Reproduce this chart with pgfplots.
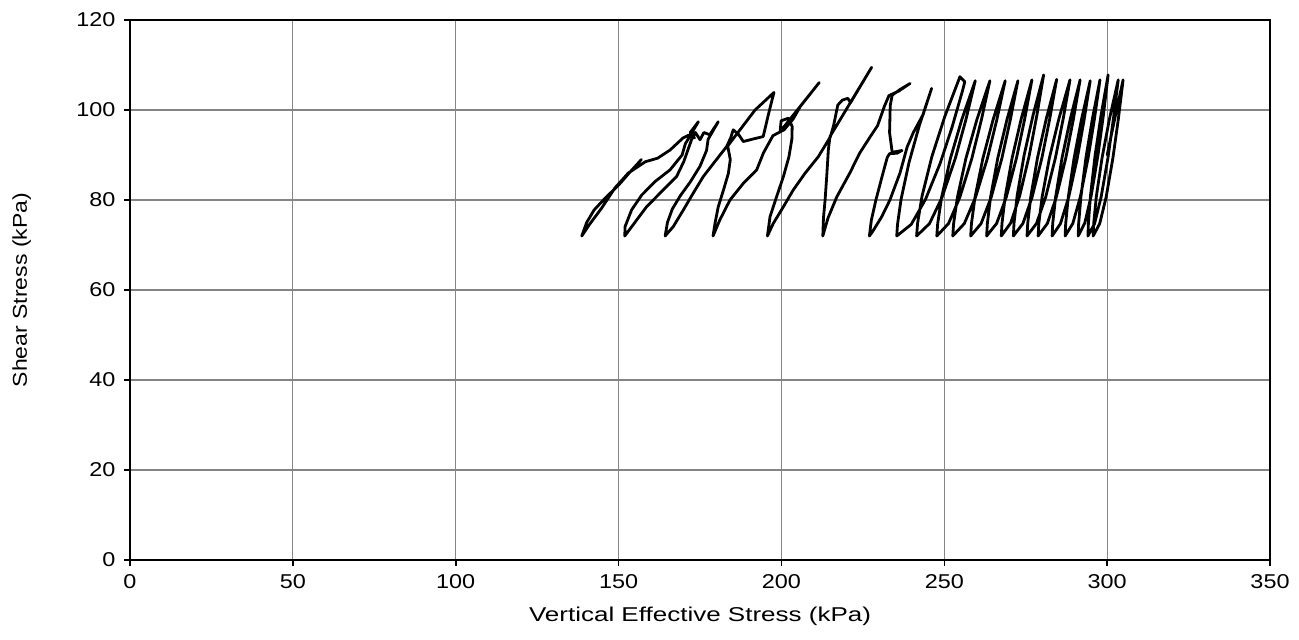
\documentclass[border=0pt]{standalone}
\usepackage{fontspec}
\setmainfont{Liberation Sans}[FakeStretch=1.17]
\newfontfamily\xlfont{Liberation Sans}[FakeStretch=1.3]
\newfontfamily\ylfont{Liberation Sans}[FakeStretch=1.15]
\usepackage{pgfplots}
\pgfplotsset{compat=1.18}
\begin{document}
\fontsize{10pt}{12pt}\selectfont
\begin{tikzpicture}
\begin{axis}[
  name=ax,
  scale only axis,
  width=570pt, height=270pt,
  xmin=0, xmax=350, ymin=0, ymax=120,
  xtick={0,50,...,350}, ytick={0,20,...,120},
  /pgf/number format/assume math mode=true,
  tick label style={font=\fontsize{10pt}{12pt}\selectfont},
  grid=major,
  major grid style={draw=black!48, line width=0.6pt},
  axis line style={line width=1pt},
  tick style={black, line width=0.8pt},
  tick align=outside,
  major tick length=2.8pt,
  xtick pos=left, ytick pos=left,
  xlabel={Vertical Effective Stress (kPa)},
  ylabel={Shear Stress (kPa)},
  x label style={font=\xlfont\fontsize{10pt}{12pt}\selectfont, at={(axis description cs:0.5,-0.105)},anchor=center},
  y label style={font=\ylfont\fontsize{10pt}{12pt}\selectfont, at={(axis description cs:-0.095,0.5)},anchor=center},
  yticklabel style={xshift=-1pt},
  xticklabel style={yshift=-1pt},
]
\addplot[black, line width=1.4pt, line join=round, line cap=round, mark=none] coordinates {
(300.0,90.0) (302.4,98.3) (304.9,106.7)
(303.44,98.03) (301.77,89.35) (299.70,80.68) (297.72,74.78) (295.7,72)
(295.87,74.78) (296.66,80.68) (298.43,89.35) (300.71,98.03) (303.4,106.7)
(301.92,98.03) (300.24,89.35) (298.15,80.68) (296.15,74.78) (294.1,72)
(294.24,74.86) (294.88,80.95) (296.29,89.9) (298.13,98.85) (300.3,107.8)
(298.84,98.85) (297.17,89.9) (295.10,80.95) (293.12,74.86) (291.1,72)
(291.25,74.78) (291.94,80.68) (293.47,89.35) (295.46,98.03) (297.8,106.7)
(296.10,98.03) (294.16,89.35) (291.75,80.68) (289.45,74.78) (287.1,72)
(287.27,74.76) (288.06,80.63) (289.83,89.25) (292.11,97.88) (294.8,106.5)
(292.94,97.88) (290.82,89.25) (288.19,80.63) (285.67,74.76) (283.1,72)
(283.29,74.78) (284.18,80.68) (286.14,89.35) (288.69,98.03) (291.7,106.7)
(289.65,98.03) (287.31,89.35) (284.41,80.68) (281.64,74.78) (278.8,72)
(279.02,74.78) (280.03,80.68) (282.27,89.35) (285.17,98.03) (288.6,106.7)
(286.50,98.03) (284.11,89.35) (281.14,80.68) (278.30,74.78) (275.4,72)
(275.61,74.78) (276.54,80.7) (278.62,89.4) (281.32,98.1) (284.5,106.8)
(282.39,98.1) (279.98,89.4) (276.99,80.7) (274.13,74.78) (271.2,72)
(271.41,74.86) (272.36,80.95) (274.49,89.9) (277.25,98.85) (280.5,107.8)
(278.43,98.85) (276.08,89.9) (273.16,80.95) (270.36,74.86) (267.5,72)
(267.71,74.78) (268.68,80.68) (270.83,89.35) (273.61,98.03) (276.9,106.7)
(274.69,98.03) (272.17,89.35) (269.05,80.68) (266.06,74.78) (263.0,72)
(263.22,74.76) (264.20,80.63) (266.40,89.25) (269.24,97.88) (272.6,106.5)
(270.29,97.88) (267.67,89.25) (264.41,80.63) (261.29,74.76) (258.1,72)
(258.34,74.76) (259.43,80.63) (261.85,89.25) (264.99,97.88) (268.7,106.5)
(266.14,97.88) (263.23,89.25) (259.60,80.63) (256.14,74.76) (252.6,72)
(252.86,74.76) (254.03,80.63) (256.64,89.25) (260.01,97.88) (264.0,106.5)
(261.41,97.88) (258.46,89.25) (254.79,80.63) (251.29,74.76) (247.7,72)
(247.97,74.76) (249.18,80.63) (251.88,89.25) (255.37,97.88) (259.5,106.5)
(256.64,97.88) (253.38,89.25) (249.33,80.63) (245.46,74.76) (241.5,72)
(241.80,74.83) (243.16,80.85) (246.21,89.7) (250.15,98.55) (254.8,107.4)
(256.3,106.3) (255.6,104.3)
(252.39,96.2) (248.73,88.15) (244.19,80.08) (239.84,74.58) (235.4,72)
(235.64,74.62) (236.74,80.2) (239.19,88.4) (242.36,96.6) (246.1,104.8)
(243.5,99.0) (240.5,95.0) (238.6,91.8) (236.4,86.0) (233.3,80.0) (230.8,76.3) (228.0,73.0) (227.0,72)
(227.6,75.5) (229.0,80.0) (231.0,85.5) (232.5,89.5) (233.2,90.3) (235.5,90.4) (237.0,91.0) (234.0,90.6) (233.2,95.0) (233.4,101.0) (234.0,103.3) (236.5,104.6) (239.5,105.9)
(236.0,104.2) (233.0,103.2) (231.6,100.8) (229.5,96.5) (227.2,94.0) (224.0,90.4) (221.0,86.0) (217.0,80.7) (214.3,76.0) (212.7,72)
(212.9,76.0) (213.4,80.0) (213.9,85.2) (214.4,91.1) (214.9,94.1) (227.7,109.5)
(221.2,101.6) (220.4,102.6) (218.7,102.2) (217.3,101.1) (216.0,96.5) (215.0,94.0) (211.3,89.6) (207.2,85.9) (203.6,82.2) (200.6,78.5) (197.5,74.8) (195.7,72)
(196.5,76.3) (198.5,80.7) (200.6,85.2) (202.3,89.6) (203.2,93.5) (203.3,96.3) (202.2,98.2) (199.9,97.6) (199.6,95.2) (211.6,106.1)
(205.8,100.8) (203.6,98.0) (200.8,95.6) (197.4,94.3) (194.5,90.5) (192.4,86.7) (188.3,83.7) (184.2,80.0) (181.1,75.6) (179.0,72)
(179.6,74.8) (180.6,78.5) (182.2,82.2) (183.7,85.9) (184.3,89.0) (183.5,92.0) (191.9,100.0) (197.7,103.9)
(196.0,99.0) (194.4,94.1) (191.0,93.5) (188.3,93.0) (186.8,94.6) (185.2,95.6) (184.4,93.8) (183.2,91.9) (179.1,88.1) (176.0,85.2) (172.9,81.5) (169.9,77.8) (166.8,74.1) (164.3,72)
(165.0,75.0) (166.5,78.0) (169.0,81.0) (172.0,84.0) (175.0,87.5) (177.0,91.0) (177.5,93.5) (180.6,97.4)
(178.0,94.5) (176.2,95.0) (175.0,93.4) (173.6,95.0) (172.4,93.4) (170.0,88.5) (167.8,85.2) (162.7,81.5) (158.6,78.5) (155.6,75.6) (151.9,72)
(152.0,74.1) (154.0,77.8) (157.1,81.1) (161.2,84.1) (165.8,86.7) (169.5,90.0) (170.5,92.5) (174.5,97.4)
(172.0,95.0) (173.3,93.8) (171.5,94.4) (169.8,93.8) (165.8,91.1) (162.0,89.3) (158.2,88.5) (153.0,86.0) (148.9,82.7) (144.8,78.2) (141.0,74.5) (138.7,72)
(140.2,75.0) (142.5,77.8) (146.0,80.5) (150.0,83.3) (153.5,86.2) (157.0,89.0)
};
\end{axis}
\pgfresetboundingbox
\path[use as bounding box] ([xshift=-65pt,yshift=-39.5pt]ax.south west) rectangle ([xshift=14.5pt,yshift=10pt]ax.north east);
\end{tikzpicture}
\end{document}
